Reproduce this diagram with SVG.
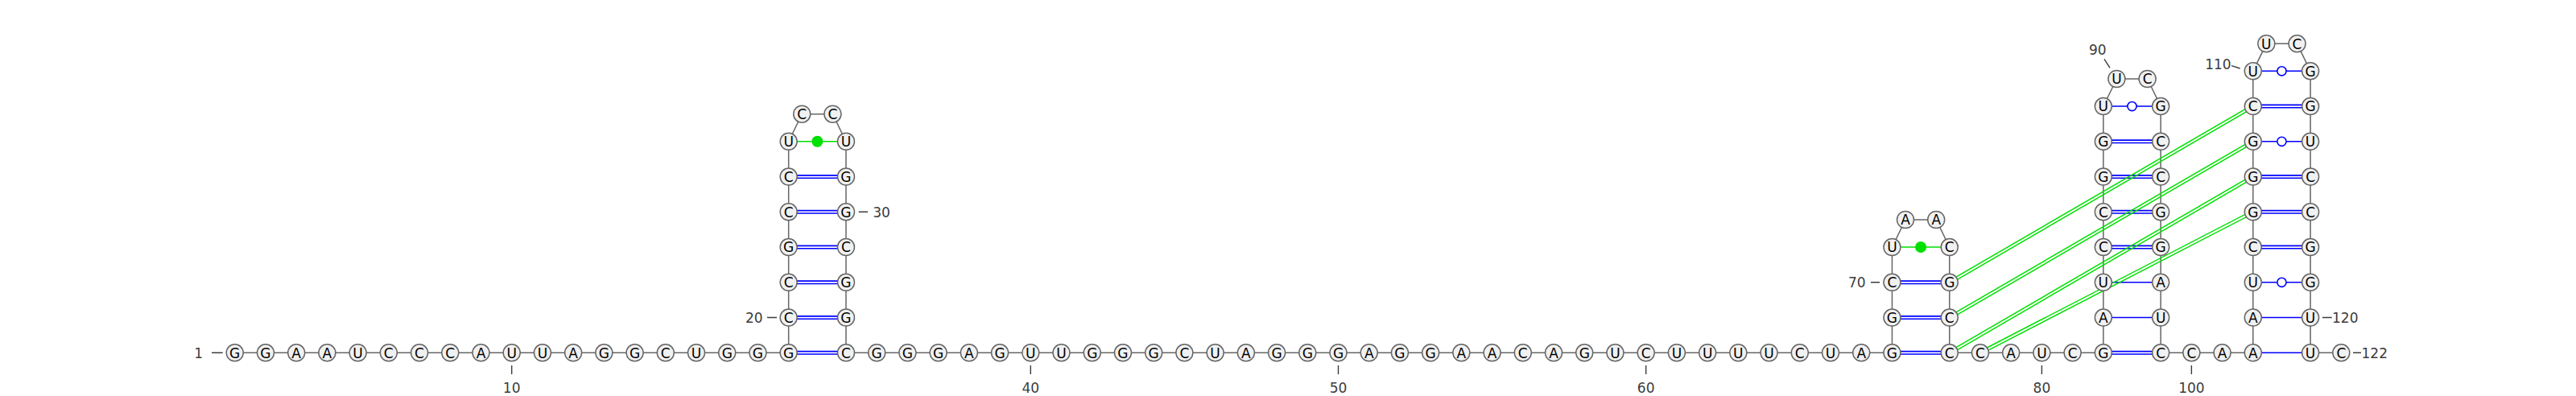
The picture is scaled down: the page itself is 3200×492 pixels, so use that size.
<svg xmlns="http://www.w3.org/2000/svg" width="3200" height="492" viewBox="0 0 3200 492">
<style>
.bb{fill:none;stroke:#666;stroke-width:1.5}
.bp{fill:none;stroke:#0000ff;stroke-width:1.6}
.bp2{fill:none;stroke:#0000ff;stroke-width:1.6}
.pk{fill:none;stroke:#00e000;stroke-width:1.5}
.gd{fill:#00e000;stroke:none}
.gl{fill:none;stroke:#00e000;stroke-width:1.6}
.wb{fill:#fff;stroke:#0000ff;stroke-width:1.6}
#nodes circle{fill:#f1f1f1;stroke:#666;stroke-width:1.5}
#nodes text{font-family:"DejaVu Sans",sans-serif;font-size:17px;fill:#000;text-anchor:middle}
.lbl{font-family:"DejaVu Sans",sans-serif;font-size:17px;fill:#3c3c3c}
.tk{stroke:#3c3c3c;stroke-width:1.4;fill:none}
</style>
<rect width="3200" height="492" fill="#fff"/>
<g id="connectors">
<polyline class="bb" points="291.7,438.3 979.66,438.3 979.66,175.8 996.2,141.7 1034.4,141.7 1050.96,175.8 1050.96,438.3 2350.44,438.3 2350.44,307.05 2367,273 2405.2,273 2421.74,307.05 2421.74,438.3 2612.84,438.3 2612.84,132.05 2629.4,98 2667.6,98 2684.14,132.05 2684.14,438.3 2798.8,438.3 2798.8,88.3 2815.35,54.3 2853.55,54.3 2870.1,88.3 2870.1,438.3 2908.32,438.3"/>
<path class="bp2" d="M979.66 436.6H1050.96M979.66 440H1050.96M979.66 392.85H1050.96M979.66 396.25H1050.96M979.66 349.1H1050.96M979.66 352.5H1050.96M979.66 305.35H1050.96M979.66 308.75H1050.96M979.66 261.6H1050.96M979.66 265H1050.96M979.66 217.85H1050.96M979.66 221.25H1050.96"/>
<path class="bp2" d="M2350.44 436.6H2421.74M2350.44 440H2421.74M2350.44 392.85H2421.74M2350.44 396.25H2421.74M2350.44 349.1H2421.74M2350.44 352.5H2421.74"/>
<path class="bp2" d="M2612.84 436.6H2684.14M2612.84 440H2684.14M2612.84 305.35H2684.14M2612.84 308.75H2684.14M2612.84 261.6H2684.14M2612.84 265H2684.14M2612.84 217.85H2684.14M2612.84 221.25H2684.14M2612.84 174.1H2684.14M2612.84 177.5H2684.14"/>
<path class="bp2" d="M2798.8 305.35H2870.1M2798.8 308.75H2870.1M2798.8 261.6H2870.1M2798.8 265H2870.1M2798.8 217.85H2870.1M2798.8 221.25H2870.1M2798.8 130.35H2870.1M2798.8 133.75H2870.1"/>
<path class="bp" d="M2612.84 394.55H2684.14M2612.84 350.8H2684.14M2798.8 438.3H2870.1M2798.8 394.55H2870.1M2612.84 132.05H2684.14M2798.8 350.8H2870.1M2798.8 175.8H2870.1M2798.8 88.3H2870.1"/>
<circle class="wb" cx="2648.49" cy="132.05" r="5.6"/>
<circle class="wb" cx="2834.45" cy="350.8" r="5.6"/>
<circle class="wb" cx="2834.45" cy="175.8" r="5.6"/>
<circle class="wb" cx="2834.45" cy="88.3" r="5.6"/>
<path class="gl" d="M979.66 175.8H1050.96M2350.44 307.05H2421.74"/>
<circle class="gd" cx="1015.31" cy="175.8" r="7"/>
<circle class="gd" cx="2386.09" cy="307.05" r="7"/>
<path class="pk" d="M2422.62 352.31L2799.68 133.56M2420.86 349.29L2797.92 130.54M2422.62 396.06L2799.68 177.31M2420.86 393.04L2797.92 174.29M2422.62 439.81L2799.68 221.06M2420.86 436.79L2797.92 218.04M2460.76 439.86L2799.6 264.86M2459.16 436.74L2798 261.74"/>
</g>
<g id="labels">
<path class="tk" d="M263 438.3H276.7M635.68 454V465M1280.28 454V465M1662.48 454V465M2044.68 454V465M2536.4 454V465M2722.36 454V465M953 394.55H965M1066.7 263.3H1078M2324 350.8H2335M2614 73.3L2621 84.3M2772 81.7L2782.7 85M2885 394.55H2896.7M2923 438.3H2933"/>
<text class="lbl" x="246.7" y="444.5" text-anchor="middle">1</text>
<text class="lbl" x="635.68" y="488" text-anchor="middle">10</text>
<text class="lbl" x="936.7" y="400.7" text-anchor="middle">20</text>
<text class="lbl" x="1095" y="269.5" text-anchor="middle">30</text>
<text class="lbl" x="1280.28" y="488" text-anchor="middle">40</text>
<text class="lbl" x="1662.48" y="488" text-anchor="middle">50</text>
<text class="lbl" x="2044.68" y="488" text-anchor="middle">60</text>
<text class="lbl" x="2306.7" y="357" text-anchor="middle">70</text>
<text class="lbl" x="2536.4" y="488" text-anchor="middle">80</text>
<text class="lbl" x="2605.7" y="68" text-anchor="middle">90</text>
<text class="lbl" x="2722.36" y="488" text-anchor="middle">100</text>
<text class="lbl" x="2771.7" y="86.2" text-anchor="end">110</text>
<text class="lbl" x="2897" y="400.7">120</text>
<text class="lbl" x="2933.5" y="444.5">122</text>
</g>
<g id="nodes">
<g id="n1"><circle cx="291.70" cy="438.3" r="10.5"/><text x="291.70" y="444.5">G</text></g>
<g id="n2"><circle cx="329.92" cy="438.3" r="10.5"/><text x="329.92" y="444.5">G</text></g>
<g id="n3"><circle cx="368.14" cy="438.3" r="10.5"/><text x="368.14" y="444.5">A</text></g>
<g id="n4"><circle cx="406.36" cy="438.3" r="10.5"/><text x="406.36" y="444.5">A</text></g>
<g id="n5"><circle cx="444.58" cy="438.3" r="10.5"/><text x="444.58" y="444.5">U</text></g>
<g id="n6"><circle cx="482.80" cy="438.3" r="10.5"/><text x="482.80" y="444.5">C</text></g>
<g id="n7"><circle cx="521.02" cy="438.3" r="10.5"/><text x="521.02" y="444.5">C</text></g>
<g id="n8"><circle cx="559.24" cy="438.3" r="10.5"/><text x="559.24" y="444.5">C</text></g>
<g id="n9"><circle cx="597.46" cy="438.3" r="10.5"/><text x="597.46" y="444.5">A</text></g>
<g id="n10"><circle cx="635.68" cy="438.3" r="10.5"/><text x="635.68" y="444.5">U</text></g>
<g id="n11"><circle cx="673.90" cy="438.3" r="10.5"/><text x="673.90" y="444.5">U</text></g>
<g id="n12"><circle cx="712.12" cy="438.3" r="10.5"/><text x="712.12" y="444.5">A</text></g>
<g id="n13"><circle cx="750.34" cy="438.3" r="10.5"/><text x="750.34" y="444.5">G</text></g>
<g id="n14"><circle cx="788.56" cy="438.3" r="10.5"/><text x="788.56" y="444.5">G</text></g>
<g id="n15"><circle cx="826.78" cy="438.3" r="10.5"/><text x="826.78" y="444.5">C</text></g>
<g id="n16"><circle cx="865.00" cy="438.3" r="10.5"/><text x="865.00" y="444.5">U</text></g>
<g id="n17"><circle cx="903.22" cy="438.3" r="10.5"/><text x="903.22" y="444.5">G</text></g>
<g id="n18"><circle cx="941.44" cy="438.3" r="10.5"/><text x="941.44" y="444.5">G</text></g>
<g id="n19"><circle cx="979.66" cy="438.3" r="10.5"/><text x="979.66" y="444.5">G</text></g>
<g id="n20"><circle cx="979.66" cy="394.55" r="10.5"/><text x="979.66" y="400.75">C</text></g>
<g id="n21"><circle cx="979.66" cy="350.8" r="10.5"/><text x="979.66" y="357">C</text></g>
<g id="n22"><circle cx="979.66" cy="307.05" r="10.5"/><text x="979.66" y="313.25">G</text></g>
<g id="n23"><circle cx="979.66" cy="263.3" r="10.5"/><text x="979.66" y="269.5">C</text></g>
<g id="n24"><circle cx="979.66" cy="219.55" r="10.5"/><text x="979.66" y="225.75">C</text></g>
<g id="n25"><circle cx="979.66" cy="175.8" r="10.5"/><text x="979.66" y="182">U</text></g>
<g id="n26"><circle cx="996.2" cy="141.7" r="10.5"/><text x="996.2" y="147.9">C</text></g>
<g id="n27"><circle cx="1034.4" cy="141.7" r="10.5"/><text x="1034.4" y="147.9">C</text></g>
<g id="n28"><circle cx="1050.96" cy="175.8" r="10.5"/><text x="1050.96" y="182">U</text></g>
<g id="n29"><circle cx="1050.96" cy="219.55" r="10.5"/><text x="1050.96" y="225.75">G</text></g>
<g id="n30"><circle cx="1050.96" cy="263.3" r="10.5"/><text x="1050.96" y="269.5">G</text></g>
<g id="n31"><circle cx="1050.96" cy="307.05" r="10.5"/><text x="1050.96" y="313.25">C</text></g>
<g id="n32"><circle cx="1050.96" cy="350.8" r="10.5"/><text x="1050.96" y="357">G</text></g>
<g id="n33"><circle cx="1050.96" cy="394.55" r="10.5"/><text x="1050.96" y="400.75">G</text></g>
<g id="n34"><circle cx="1050.96" cy="438.3" r="10.5"/><text x="1050.96" y="444.5">C</text></g>
<g id="n35"><circle cx="1089.18" cy="438.3" r="10.5"/><text x="1089.18" y="444.5">G</text></g>
<g id="n36"><circle cx="1127.40" cy="438.3" r="10.5"/><text x="1127.40" y="444.5">G</text></g>
<g id="n37"><circle cx="1165.62" cy="438.3" r="10.5"/><text x="1165.62" y="444.5">G</text></g>
<g id="n38"><circle cx="1203.84" cy="438.3" r="10.5"/><text x="1203.84" y="444.5">A</text></g>
<g id="n39"><circle cx="1242.06" cy="438.3" r="10.5"/><text x="1242.06" y="444.5">G</text></g>
<g id="n40"><circle cx="1280.28" cy="438.3" r="10.5"/><text x="1280.28" y="444.5">U</text></g>
<g id="n41"><circle cx="1318.50" cy="438.3" r="10.5"/><text x="1318.50" y="444.5">U</text></g>
<g id="n42"><circle cx="1356.72" cy="438.3" r="10.5"/><text x="1356.72" y="444.5">G</text></g>
<g id="n43"><circle cx="1394.94" cy="438.3" r="10.5"/><text x="1394.94" y="444.5">G</text></g>
<g id="n44"><circle cx="1433.16" cy="438.3" r="10.5"/><text x="1433.16" y="444.5">G</text></g>
<g id="n45"><circle cx="1471.38" cy="438.3" r="10.5"/><text x="1471.38" y="444.5">C</text></g>
<g id="n46"><circle cx="1509.60" cy="438.3" r="10.5"/><text x="1509.60" y="444.5">U</text></g>
<g id="n47"><circle cx="1547.82" cy="438.3" r="10.5"/><text x="1547.82" y="444.5">A</text></g>
<g id="n48"><circle cx="1586.04" cy="438.3" r="10.5"/><text x="1586.04" y="444.5">G</text></g>
<g id="n49"><circle cx="1624.26" cy="438.3" r="10.5"/><text x="1624.26" y="444.5">G</text></g>
<g id="n50"><circle cx="1662.48" cy="438.3" r="10.5"/><text x="1662.48" y="444.5">G</text></g>
<g id="n51"><circle cx="1700.70" cy="438.3" r="10.5"/><text x="1700.70" y="444.5">A</text></g>
<g id="n52"><circle cx="1738.92" cy="438.3" r="10.5"/><text x="1738.92" y="444.5">G</text></g>
<g id="n53"><circle cx="1777.14" cy="438.3" r="10.5"/><text x="1777.14" y="444.5">G</text></g>
<g id="n54"><circle cx="1815.36" cy="438.3" r="10.5"/><text x="1815.36" y="444.5">A</text></g>
<g id="n55"><circle cx="1853.58" cy="438.3" r="10.5"/><text x="1853.58" y="444.5">A</text></g>
<g id="n56"><circle cx="1891.80" cy="438.3" r="10.5"/><text x="1891.80" y="444.5">C</text></g>
<g id="n57"><circle cx="1930.02" cy="438.3" r="10.5"/><text x="1930.02" y="444.5">A</text></g>
<g id="n58"><circle cx="1968.24" cy="438.3" r="10.5"/><text x="1968.24" y="444.5">G</text></g>
<g id="n59"><circle cx="2006.46" cy="438.3" r="10.5"/><text x="2006.46" y="444.5">U</text></g>
<g id="n60"><circle cx="2044.68" cy="438.3" r="10.5"/><text x="2044.68" y="444.5">C</text></g>
<g id="n61"><circle cx="2082.90" cy="438.3" r="10.5"/><text x="2082.90" y="444.5">U</text></g>
<g id="n62"><circle cx="2121.12" cy="438.3" r="10.5"/><text x="2121.12" y="444.5">U</text></g>
<g id="n63"><circle cx="2159.34" cy="438.3" r="10.5"/><text x="2159.34" y="444.5">U</text></g>
<g id="n64"><circle cx="2197.56" cy="438.3" r="10.5"/><text x="2197.56" y="444.5">U</text></g>
<g id="n65"><circle cx="2235.78" cy="438.3" r="10.5"/><text x="2235.78" y="444.5">C</text></g>
<g id="n66"><circle cx="2274.00" cy="438.3" r="10.5"/><text x="2274.00" y="444.5">U</text></g>
<g id="n67"><circle cx="2312.22" cy="438.3" r="10.5"/><text x="2312.22" y="444.5">A</text></g>
<g id="n68"><circle cx="2350.44" cy="438.3" r="10.5"/><text x="2350.44" y="444.5">G</text></g>
<g id="n69"><circle cx="2350.44" cy="394.55" r="10.5"/><text x="2350.44" y="400.75">G</text></g>
<g id="n70"><circle cx="2350.44" cy="350.8" r="10.5"/><text x="2350.44" y="357">C</text></g>
<g id="n71"><circle cx="2350.44" cy="307.05" r="10.5"/><text x="2350.44" y="313.25">U</text></g>
<g id="n72"><circle cx="2367" cy="273" r="10.5"/><text x="2367" y="279.2">A</text></g>
<g id="n73"><circle cx="2405.2" cy="273" r="10.5"/><text x="2405.2" y="279.2">A</text></g>
<g id="n74"><circle cx="2421.74" cy="307.05" r="10.5"/><text x="2421.74" y="313.25">C</text></g>
<g id="n75"><circle cx="2421.74" cy="350.8" r="10.5"/><text x="2421.74" y="357">G</text></g>
<g id="n76"><circle cx="2421.74" cy="394.55" r="10.5"/><text x="2421.74" y="400.75">C</text></g>
<g id="n77"><circle cx="2421.74" cy="438.3" r="10.5"/><text x="2421.74" y="444.5">C</text></g>
<g id="n78"><circle cx="2459.96" cy="438.3" r="10.5"/><text x="2459.96" y="444.5">C</text></g>
<g id="n79"><circle cx="2498.18" cy="438.3" r="10.5"/><text x="2498.18" y="444.5">A</text></g>
<g id="n80"><circle cx="2536.40" cy="438.3" r="10.5"/><text x="2536.40" y="444.5">U</text></g>
<g id="n81"><circle cx="2574.62" cy="438.3" r="10.5"/><text x="2574.62" y="444.5">C</text></g>
<g id="n82"><circle cx="2612.84" cy="438.3" r="10.5"/><text x="2612.84" y="444.5">G</text></g>
<g id="n83"><circle cx="2612.84" cy="394.55" r="10.5"/><text x="2612.84" y="400.75">A</text></g>
<g id="n84"><circle cx="2612.84" cy="350.8" r="10.5"/><text x="2612.84" y="357">U</text></g>
<g id="n85"><circle cx="2612.84" cy="307.05" r="10.5"/><text x="2612.84" y="313.25">C</text></g>
<g id="n86"><circle cx="2612.84" cy="263.3" r="10.5"/><text x="2612.84" y="269.5">C</text></g>
<g id="n87"><circle cx="2612.84" cy="219.55" r="10.5"/><text x="2612.84" y="225.75">G</text></g>
<g id="n88"><circle cx="2612.84" cy="175.8" r="10.5"/><text x="2612.84" y="182">G</text></g>
<g id="n89"><circle cx="2612.84" cy="132.05" r="10.5"/><text x="2612.84" y="138.25">U</text></g>
<g id="n90"><circle cx="2629.4" cy="98" r="10.5"/><text x="2629.4" y="104.2">U</text></g>
<g id="n91"><circle cx="2667.6" cy="98" r="10.5"/><text x="2667.6" y="104.2">C</text></g>
<g id="n92"><circle cx="2684.14" cy="132.05" r="10.5"/><text x="2684.14" y="138.25">G</text></g>
<g id="n93"><circle cx="2684.14" cy="175.8" r="10.5"/><text x="2684.14" y="182">C</text></g>
<g id="n94"><circle cx="2684.14" cy="219.55" r="10.5"/><text x="2684.14" y="225.75">C</text></g>
<g id="n95"><circle cx="2684.14" cy="263.3" r="10.5"/><text x="2684.14" y="269.5">G</text></g>
<g id="n96"><circle cx="2684.14" cy="307.05" r="10.5"/><text x="2684.14" y="313.25">G</text></g>
<g id="n97"><circle cx="2684.14" cy="350.8" r="10.5"/><text x="2684.14" y="357">A</text></g>
<g id="n98"><circle cx="2684.14" cy="394.55" r="10.5"/><text x="2684.14" y="400.75">U</text></g>
<g id="n99"><circle cx="2684.14" cy="438.3" r="10.5"/><text x="2684.14" y="444.5">C</text></g>
<g id="n100"><circle cx="2722.36" cy="438.3" r="10.5"/><text x="2722.36" y="444.5">C</text></g>
<g id="n101"><circle cx="2760.58" cy="438.3" r="10.5"/><text x="2760.58" y="444.5">A</text></g>
<g id="n102"><circle cx="2798.8" cy="438.3" r="10.5"/><text x="2798.8" y="444.5">A</text></g>
<g id="n103"><circle cx="2798.8" cy="394.55" r="10.5"/><text x="2798.8" y="400.75">A</text></g>
<g id="n104"><circle cx="2798.8" cy="350.8" r="10.5"/><text x="2798.8" y="357">U</text></g>
<g id="n105"><circle cx="2798.8" cy="307.05" r="10.5"/><text x="2798.8" y="313.25">C</text></g>
<g id="n106"><circle cx="2798.8" cy="263.3" r="10.5"/><text x="2798.8" y="269.5">G</text></g>
<g id="n107"><circle cx="2798.8" cy="219.55" r="10.5"/><text x="2798.8" y="225.75">G</text></g>
<g id="n108"><circle cx="2798.8" cy="175.8" r="10.5"/><text x="2798.8" y="182">G</text></g>
<g id="n109"><circle cx="2798.8" cy="132.05" r="10.5"/><text x="2798.8" y="138.25">C</text></g>
<g id="n110"><circle cx="2798.8" cy="88.3" r="10.5"/><text x="2798.8" y="94.5">U</text></g>
<g id="n111"><circle cx="2815.35" cy="54.3" r="10.5"/><text x="2815.35" y="60.5">U</text></g>
<g id="n112"><circle cx="2853.55" cy="54.3" r="10.5"/><text x="2853.55" y="60.5">C</text></g>
<g id="n113"><circle cx="2870.1" cy="88.3" r="10.5"/><text x="2870.1" y="94.5">G</text></g>
<g id="n114"><circle cx="2870.1" cy="132.05" r="10.5"/><text x="2870.1" y="138.25">G</text></g>
<g id="n115"><circle cx="2870.1" cy="175.8" r="10.5"/><text x="2870.1" y="182">U</text></g>
<g id="n116"><circle cx="2870.1" cy="219.55" r="10.5"/><text x="2870.1" y="225.75">C</text></g>
<g id="n117"><circle cx="2870.1" cy="263.3" r="10.5"/><text x="2870.1" y="269.5">C</text></g>
<g id="n118"><circle cx="2870.1" cy="307.05" r="10.5"/><text x="2870.1" y="313.25">G</text></g>
<g id="n119"><circle cx="2870.1" cy="350.8" r="10.5"/><text x="2870.1" y="357">G</text></g>
<g id="n120"><circle cx="2870.1" cy="394.55" r="10.5"/><text x="2870.1" y="400.75">U</text></g>
<g id="n121"><circle cx="2870.1" cy="438.3" r="10.5"/><text x="2870.1" y="444.5">U</text></g>
<g id="n122"><circle cx="2908.32" cy="438.3" r="10.5"/><text x="2908.32" y="444.5">C</text></g>
</g>
</svg>
